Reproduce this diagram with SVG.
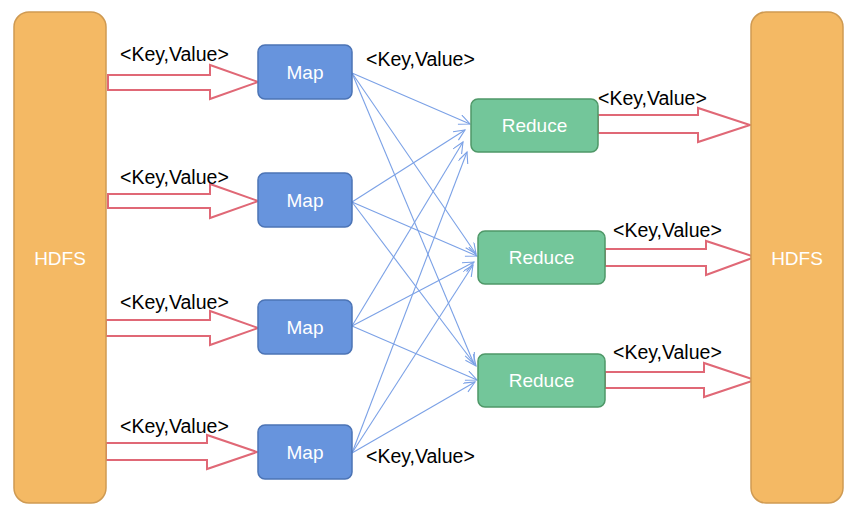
<svg xmlns="http://www.w3.org/2000/svg" width="852" height="515" viewBox="0 0 852 515">
<style>
.hdfs{fill:#F4B964;stroke:#CF9A52;stroke-width:1.5}
.map{fill:#6794DD;stroke:#4C74B5;stroke-width:1.5}
.red{fill:#73C69A;stroke:#4F9868;stroke-width:1.5}
.nt{font-family:"Liberation Sans",Arial,sans-serif;font-size:19px;fill:#fff;text-anchor:middle;dominant-baseline:central}
.kv{font-family:"Liberation Sans",Arial,sans-serif;font-size:19.5px;fill:#000}
.big{fill:#fff;stroke:#E06876;stroke-width:2;stroke-linejoin:miter}
.ln{stroke:#7BA1E6;stroke-width:1.1;fill:none;marker-end:url(#ah)}
</style>
<defs>
<marker id="ah" markerUnits="userSpaceOnUse" markerWidth="14" markerHeight="12" refX="12" refY="5" orient="auto">
<path d="M1,0 L12,5 L1,10" fill="none" stroke="#7BA1E6" stroke-width="1.1"/>
</marker>
</defs>
<rect width="852" height="515" fill="#fff"/>
<g id="connectors">
<path class="big" d="M108,75 H210 V65 L258,82 L210,99 V90 H108 Z"/>
<path class="big" d="M108,194 H210 V184 L258,201 L210,218 V208 H108 Z"/>
<path class="big" d="M106,320 H210 V311 L258,328 L210,345 V336 H106 Z"/>
<path class="big" d="M106,443 H207 V435 L257,452 L207,469 V460 H106 Z"/>
<path class="big" d="M598,115 H698 V108 L750,125 L698,142 V133 H598 Z"/>
<path class="big" d="M605,249 H706 V241 L755,257 L706,275 V266 H605 Z"/>
<path class="big" d="M605,372 H704 V363 L755,380 L704,397 V388 H605 Z"/>
<line class="ln" x1="352" y1="73" x2="470" y2="124"/>
<line class="ln" x1="352" y1="73" x2="476" y2="254"/>
<line class="ln" x1="352" y1="73" x2="474" y2="364"/>
<line class="ln" x1="352" y1="202" x2="465" y2="130"/>
<line class="ln" x1="352" y1="202" x2="477" y2="256"/>
<line class="ln" x1="352" y1="202" x2="476" y2="366"/>
<line class="ln" x1="352" y1="326" x2="463" y2="142"/>
<line class="ln" x1="352" y1="326" x2="474" y2="262"/>
<line class="ln" x1="352" y1="326" x2="477" y2="380"/>
<line class="ln" x1="352" y1="453" x2="467" y2="152"/>
<line class="ln" x1="352" y1="453" x2="473" y2="265"/>
<line class="ln" x1="352" y1="453" x2="475" y2="382"/>
</g>
<g id="hdfs-left"><rect class="hdfs" x="14" y="12" width="92" height="491" rx="15"/><text class="nt" x="60" y="258">HDFS</text></g>
<g id="hdfs-right"><rect class="hdfs" x="751" y="12" width="92" height="491" rx="15"/><text class="nt" x="797" y="258">HDFS</text></g>
<g id="map1"><rect class="map" x="258" y="45" width="94" height="54" rx="7"/><text class="nt" x="305" y="72">Map</text></g>
<g id="map2"><rect class="map" x="258" y="173" width="94" height="54" rx="7"/><text class="nt" x="305" y="200">Map</text></g>
<g id="map3"><rect class="map" x="258" y="300" width="94" height="54" rx="7"/><text class="nt" x="305" y="327">Map</text></g>
<g id="map4"><rect class="map" x="258" y="425" width="94" height="54" rx="7"/><text class="nt" x="305" y="452">Map</text></g>
<g id="reduce1"><rect class="red" x="471" y="99" width="127" height="53" rx="7"/><text class="nt" x="534.5" y="125.5">Reduce</text></g>
<g id="reduce2"><rect class="red" x="478" y="231" width="127" height="53" rx="7"/><text class="nt" x="541.5" y="257.5">Reduce</text></g>
<g id="reduce3"><rect class="red" x="478" y="354" width="127" height="53" rx="7"/><text class="nt" x="541.5" y="380.5">Reduce</text></g>
<g id="labels">
<text class="kv" x="120" y="61">&lt;Key,Value&gt;</text>
<text class="kv" x="120" y="184">&lt;Key,Value&gt;</text>
<text class="kv" x="120" y="309">&lt;Key,Value&gt;</text>
<text class="kv" x="120" y="433">&lt;Key,Value&gt;</text>
<text class="kv" x="366" y="66">&lt;Key,Value&gt;</text>
<text class="kv" x="366" y="463">&lt;Key,Value&gt;</text>
<text class="kv" x="598" y="105">&lt;Key,Value&gt;</text>
<text class="kv" x="613" y="237">&lt;Key,Value&gt;</text>
<text class="kv" x="613" y="359">&lt;Key,Value&gt;</text>
</g>
</svg>
